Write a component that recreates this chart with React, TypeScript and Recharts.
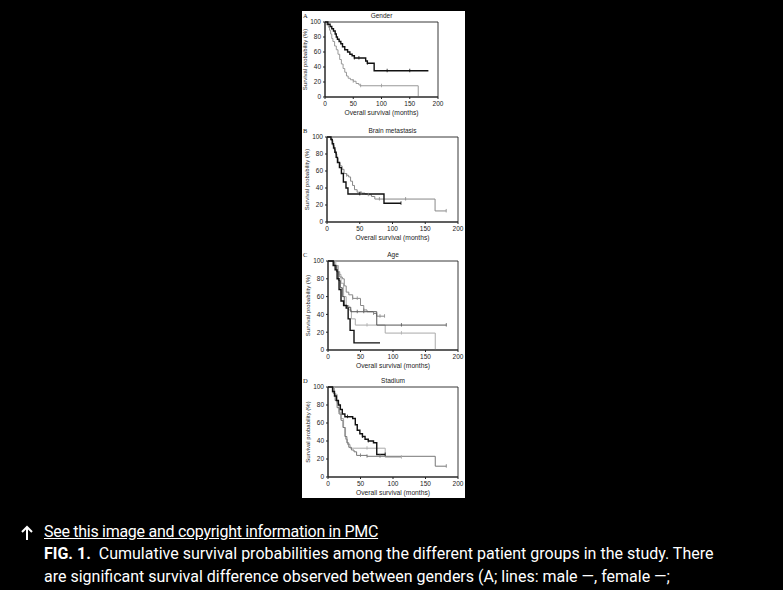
import { LineChart, Line, XAxis, YAxis, ReferenceArea } from "recharts";

// [months, survival %, censored?]
type Pt = [number, number, number?];

const X_TICKS = [0, 50, 100, 150, 200];
const Y_TICKS = [0, 20, 40, 60, 80, 100];

// A: gender
const maleA: Pt[] = [[0,100],[5,97],[9,94],[12,91],[15,88],[18,84],[20,80],[22,77],[25,74],[28,71],[31,67],[35,63],[40,60],[44,57],[48,55],[52,52,1],[60,52,1],[72,48],[75,45,1],[87,35],[110,35,1],[150,35,1],[183,35]];
const femaleA: Pt[] = [[0,100],[3,96],[6,93],[8,89],[10,84],[12,78],[14,74],[17,68],[20,63],[23,57],[26,50],[29,44],[32,38],[35,33],[38,28],[41,25],[45,23],[50,21,1],[55,18],[60,16],[63,15,1],[100,15,1],[165,15],[165,0]];

// B: brain metastasis
const brainYes: Pt[] = [[0,100],[6,97],[8,92],[10,87],[12,82],[14,76],[16,70],[19,64],[22,57],[25,47],[29,40],[32,33],[50,33,1],[87,22],[113,22,1]];
const brainNo: Pt[] = [[0,100],[7,96],[9,90],[11,85],[13,80],[15,75],[17,70],[20,66],[23,62],[26,57],[30,55,1],[33,53],[36,48],[39,43],[42,38],[46,35],[52,34,1],[58,33],[63,32,1],[68,30],[73,27],[80,27,1],[120,27,1],[165,13],[182,13,1]];

// C: age groups
const age1: Pt[] = [[0,100],[8,95],[11,90],[14,80],[17,68],[20,55],[24,50],[28,47],[31,35],[34,22],[40,8],[80,8]];
const age2: Pt[] = [[0,100],[10,95],[14,88],[18,82],[22,80],[25,72],[28,65],[32,62],[38,58,1],[45,58,1],[50,50],[55,45,1],[60,43],[70,41,1],[75,38],[80,38,1],[87,38,1]];
const age3: Pt[] = [[0,100],[9,95],[13,88],[16,78],[19,70],[22,60],[25,50],[30,48,1],[35,43],[45,43,1],[55,43,1],[75,28],[113,28,1],[182,28,1]];
const age4: Pt[] = [[0,100],[12,95],[16,85],[20,75],[24,60],[28,50],[32,45],[36,35],[42,28],[60,28,1],[88,19],[113,19,1],[165,19],[165,0]];

// D: stadium
const stage1: Pt[] = [[0,100],[7,95],[10,90],[13,85],[16,80],[19,75],[22,70],[26,67],[30,67,1],[38,65],[42,58],[45,52],[49,48],[53,45,1],[57,42],[62,40,1],[70,38],[75,25],[88,25,1]];
const stage2: Pt[] = [[0,100],[8,93],[11,85],[14,77],[17,70],[20,63],[23,55],[26,45],[29,38],[32,33],[36,30],[40,28],[44,24],[50,24,1],[60,23,1],[80,23,1],[165,12],[182,12,1]];
const stage3: Pt[] = [[0,100],[10,92],[14,82],[17,72],[20,65],[24,55],[27,42],[30,36],[34,32],[60,32,1],[88,22],[113,22,1]];

const toRows = (pts: Pt[]) => pts.map(([t, s, c]) => ({ t, s, c: !!c }));

const CensorDot = (props: any) => {
  const { cx, cy, payload, index } = props;
  if (!payload?.c || cx == null) return <g key={index} />;
  return <line key={index} x1={cx} x2={cx} y1={cy - 2} y2={cy + 1.5} stroke={props.stroke} strokeWidth={0.8} />;
};

interface Series { pts: Pt[]; color: string; width?: number }
interface PanelProps {
  letter: string; title: string;
  left: number; top: number; w: number; h: number;
  series: Series[];
}

const YW = 24, MT = 10, MR = 10, XH = 22;
const tickStyle = { fontSize: 6.5, fill: "#222", fontFamily: "Liberation Sans, Arial" };

function Panel({ letter, title, left, top, w, h, series }: PanelProps) {
  return (
    <>
      <div style={{ position: "absolute", left: 303, top: top - 10, fontSize: 6.5, color: "#222", fontFamily: "Liberation Serif" }}>{letter}</div>
      <div style={{ position: "absolute", left, top: top - 10, width: w, textAlign: "center", fontSize: 6.5, color: "#222", fontFamily: "Liberation Sans, Arial" }}>{title}</div>
      <div style={{ position: "absolute", left: left - YW, top: top - MT }}>
        <LineChart width={w + YW + MR} height={h + MT + XH} margin={{ top: MT, right: MR, left: 0, bottom: 0 }}>
          <XAxis
            dataKey="t" type="number" domain={[0, 200]} ticks={X_TICKS} height={XH}
            tick={tickStyle} tickSize={2} tickLine={{ stroke: "#222" }} axisLine={{ stroke: "#222" }}
            label={{ value: "Overall survival (months)", position: "insideBottom", offset: 4, style: { ...tickStyle, fontSize: 6.7 } }}
          />
          <YAxis
            dataKey="s" type="number" domain={[0, 100]} ticks={Y_TICKS} width={YW}
            tick={tickStyle} tickSize={2} tickLine={{ stroke: "#222" }} axisLine={{ stroke: "#222" }}
            label={{ value: "Survival probability (%)", angle: -90, position: "insideLeft", offset: 4, style: { ...tickStyle, fontSize: 6, textAnchor: "middle" } }}
          />
          <ReferenceArea x1={0} x2={200} y1={0} y2={100} fill="none" stroke="#222" strokeWidth={0.9} ifOverflow="visible" />
          {series.map((s, i) => (
            <Line
              key={i} data={toRows(s.pts)} dataKey="s" type="stepAfter"
              stroke={s.color} strokeWidth={s.width ?? 1} dot={<CensorDot />} activeDot={false}
              isAnimationActive={false}
            />
          ))}
        </LineChart>
      </div>
    </>
  );
}

export default function App() {
  return (
    <div style={{ position: "absolute", left: 0, top: 0, width: 783, height: 590, background: "#000", overflow: "hidden" }}>
      <div style={{ position: "absolute", left: 302, top: 11, width: 163, height: 487, background: "#fff" }} />
      <Panel letter="A" title="Gender" left={325} top={22} w={113} h={75}
        series={[{ pts: femaleA, color: "#999" }, { pts: maleA, color: "#111", width: 1.4 }]} />
      <Panel letter="B" title="Brain metastasis" left={327} top={137} w={131} h={85}
        series={[{ pts: brainNo, color: "#888" }, { pts: brainYes, color: "#111", width: 1.4 }]} />
      <Panel letter="C" title="Age" left={328} top={261} w={130} h={89}
        series={[{ pts: age4, color: "#aaa" }, { pts: age2, color: "#888" }, { pts: age3, color: "#555" }, { pts: age1, color: "#111", width: 1.4 }]} />
      <Panel letter="D" title="Stadium" left={328} top={387} w={130} h={90}
        series={[{ pts: stage3, color: "#aaa" }, { pts: stage2, color: "#777" }, { pts: stage1, color: "#111", width: 1.4 }]} />
      <svg style={{ position: "absolute", left: 20, top: 525 }} width={14} height={16}>
        <path d="M7 15 V2 M2 7 L7 2 L12 7" stroke="#fff" strokeWidth={2} fill="none" />
      </svg>
      <div style={{ position: "absolute", left: 0, top: 520, width: 783, color: "#fff", fontFamily: "Roboto, 'Noto Sans', sans-serif", fontSize: 16, lineHeight: "23px", whiteSpace: "nowrap" }}>
        <div style={{ position: "absolute", left: 44, top: 0, textDecoration: "underline", letterSpacing: -0.28 }}>See this image and copyright information in PMC</div>
        <div style={{ position: "absolute", left: 44, top: 22 }}><b>FIG. 1.</b>&nbsp; Cumulative survival probabilities among the different patient groups in the study. There</div>
        <div style={{ position: "absolute", left: 44, top: 45 }}>are significant survival difference observed between genders (A; lines: male —, female —;</div>
      </div>
    </div>
  );
}
